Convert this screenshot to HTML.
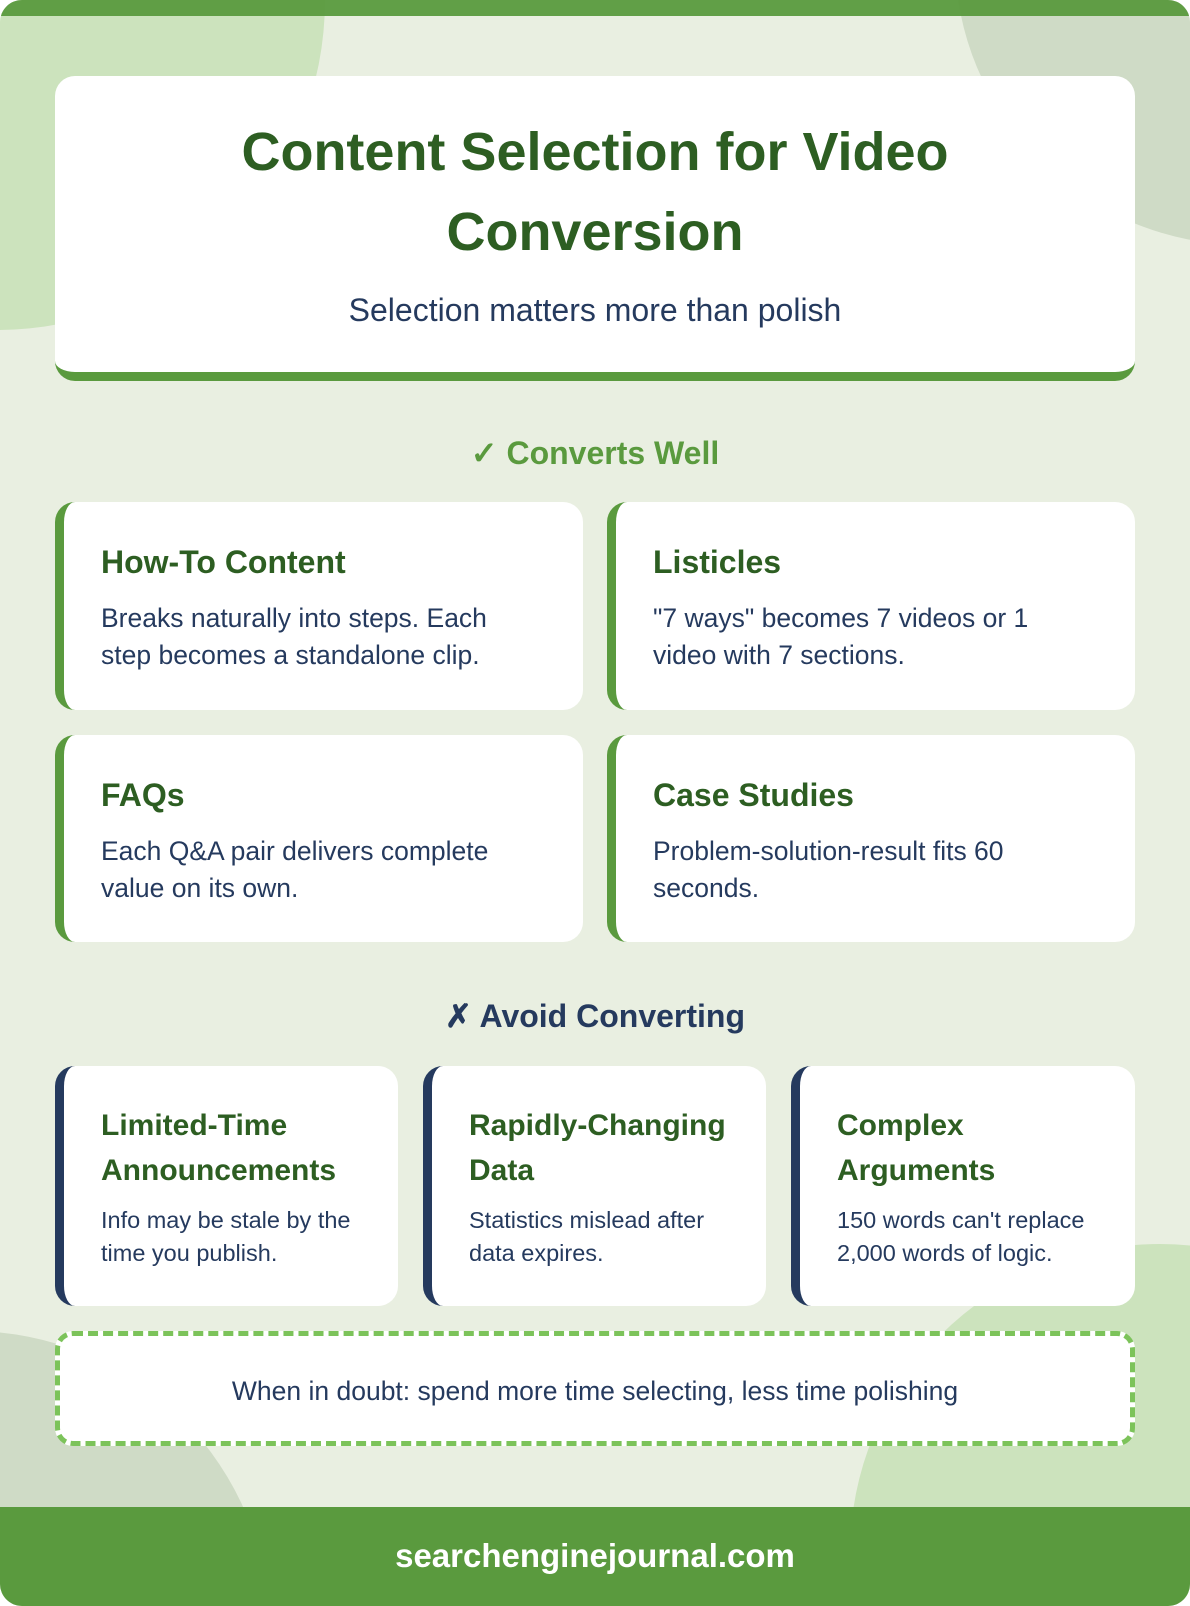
<!DOCTYPE html>
<html><head><meta charset="utf-8"><style>
*{margin:0;padding:0;box-sizing:border-box}
html,body{width:1190px;height:1606px;overflow:hidden}
body{background:#fff;font-family:"Liberation Sans",Arial,sans-serif}
.page{position:absolute;left:0;top:0;width:1190px;height:1606px;background:#e9efe1;border-radius:22px;overflow:hidden}
.blob{position:absolute;border-radius:50%}
.topbar{position:absolute;left:0;top:0;width:1190px;height:16px;background:#5a9a3e;opacity:.95}
.header{position:absolute;left:55px;top:76px;width:1080px;height:305px;background:#fff;border-radius:20px;border-bottom:9px solid #5a9a3e;text-align:center}
.header h1{font-size:54px;line-height:80px;color:#2d5e22;font-weight:bold;margin-top:36px}
.header p{font-size:32px;color:#253a5e;margin-top:20px}
.sec{position:absolute;left:0;width:1190px;text-align:center;font-size:32px;font-weight:bold}
.card{position:absolute;background:#fff;border-radius:20px;border-left:9px solid #5a9a3e;padding:38px 0 0 37px}
.card h3{font-size:32px;color:#2d5e22;line-height:44px}
.card p{font-size:26.5px;color:#253a5e;line-height:37px;margin-top:16px}
.av{border-left-color:#253a5e;padding:37px 10px 0 37px}
.av h3{font-size:30px;line-height:45px}
.av p{font-size:23.5px;line-height:33px;margin-top:11px}
.dash{position:absolute;left:55px;top:1331px;width:1080px;height:115px;background:#fff;border:5px dashed #7cc35a;border-radius:18px;text-align:center;line-height:110px;font-size:26.5px;color:#253a5e}
.footer{position:absolute;left:0;top:1507px;width:1190px;height:99px;background:#5a9a3e;color:#fff;font-weight:bold;font-size:33px;text-align:center;line-height:98px}
</style></head><body><div class="page">
<div class="blob" style="left:-330px;top:-330px;width:655px;height:660px;background:#cce3bd"></div>
<div class="blob" style="left:955px;top:-330px;width:580px;height:575px;background:#cfdbc6"></div>
<div class="blob" style="left:-330px;top:1331px;width:600px;height:600px;background:#cfdbc6"></div>
<div class="blob" style="left:850px;top:1244px;width:620px;height:620px;background:#cce3bd"></div>
<div class="topbar"></div>
<div class="header"><h1>Content Selection for Video<br>Conversion</h1><p>Selection matters more than polish</p></div>
<div class="sec" style="top:434px;color:#5a9a3e">✓ Converts Well</div>
<div class="card" style="left:55px;top:502px;width:528px;height:208px"><h3>How-To Content</h3><p>Breaks naturally into steps. Each<br>step becomes a standalone clip.</p></div>
<div class="card" style="left:607px;top:502px;width:528px;height:208px"><h3>Listicles</h3><p>"7 ways" becomes 7 videos or 1<br>video with 7 sections.</p></div>
<div class="card" style="left:55px;top:735px;width:528px;height:207px"><h3>FAQs</h3><p>Each Q&amp;A pair delivers complete<br>value on its own.</p></div>
<div class="card" style="left:607px;top:735px;width:528px;height:207px"><h3>Case Studies</h3><p>Problem-solution-result fits 60<br>seconds.</p></div>
<div class="sec" style="top:997px;color:#253a5e">✗ Avoid Converting</div>
<div class="card av" style="left:55px;top:1066px;width:343px;height:240px"><h3>Limited-Time<br>Announcements</h3><p>Info may be stale by the<br>time you publish.</p></div>
<div class="card av" style="left:423px;top:1066px;width:343px;height:240px"><h3>Rapidly-Changing<br>Data</h3><p>Statistics mislead after<br>data expires.</p></div>
<div class="card av" style="left:791px;top:1066px;width:344px;height:240px"><h3>Complex<br>Arguments</h3><p>150 words can't replace<br>2,000 words of logic.</p></div>
<div class="dash">When in doubt: spend more time selecting, less time polishing</div>
<div class="footer">searchenginejournal.com</div>
</div></body></html>
